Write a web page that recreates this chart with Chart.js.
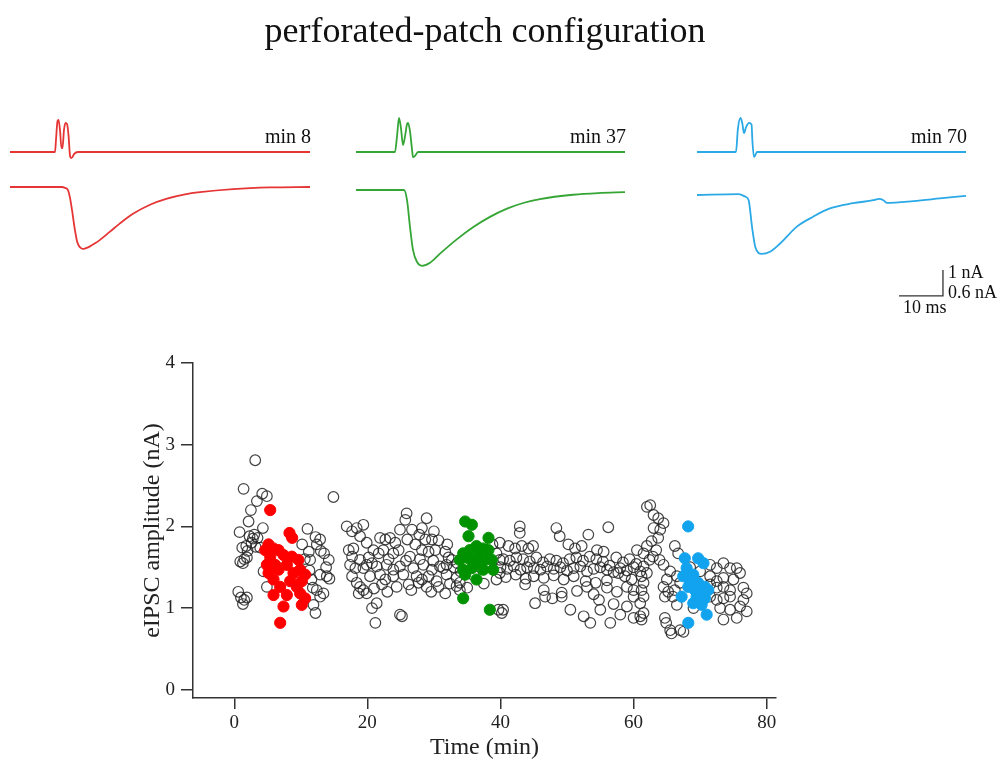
<!DOCTYPE html>
<html>
<head>
<meta charset="utf-8">
<script src="https://cdn.jsdelivr.net/npm/chart.js@4.4.1/dist/chart.umd.min.js"></script>
<style>
  html, body { margin: 0; padding: 0; background: #fff; }
  #wrap { position: relative; width: 1004px; height: 760px; overflow: hidden; }
  #wrap canvas { position: absolute; }
  #title {
    position: absolute; left: 0; top: 12px; width: 970px; text-align: center;
    font: 36px/36px 'Liberation Serif', 'Times New Roman', serif; color: #111;
  }
</style>
</head>
<body>
<div id="wrap">
  <canvas id="amp" width="1004" height="760" style="left:0;top:0"></canvas>
  <div id="title">perforated-patch configuration</div>
  <canvas id="tr0"></canvas>
  <canvas id="tr1"></canvas>
  <canvas id="tr2"></canvas>
</div>
<script>
const SERIF = "'Liberation Serif', 'Times New Roman', serif";
Chart.defaults.font.family = SERIF;

// ---------- example traces: [time (ms), current (nA)] ----------
const stim8 = [[0,0],[10.23,0],[10.45,0.46],[10.8,1.19],[11.02,1.23],[11.36,0.85],[11.7,0.15],[11.93,0.15],
  [12.27,0.85],[12.61,1.12],[12.95,1.08],[13.3,0.65],[13.64,-0.15],[13.86,-0.23],[14.2,-0.19],[14.55,-0.08],[15.45,0],[68.18,0]];
const ipsc8 = [[0,0],[11.82,0],[12.5,-0.02],[13.18,-0.07],[13.64,-0.25],[14.09,-0.53],[14.77,-1.0],[15.23,-1.25],
  [15.68,-1.36],[16.14,-1.41],[16.59,-1.43],[17.27,-1.41],[18.18,-1.37],[19.32,-1.3],[20.45,-1.22],[22.73,-1.03],
  [25.0,-0.84],[27.95,-0.62],[31.82,-0.41],[35.68,-0.27],[39.77,-0.17],[43.18,-0.12],[50.68,-0.05],[59.09,-0.01],[68.18,0]];

const stim37 = [[0,0],[8.86,0],[9.32,0.6],[9.77,1.31],[10.23,0.9],[10.68,0.27],[11.14,0.6],[11.6,1.08],[11.82,1.12],
  [12.27,0.8],[12.73,0.1],[12.95,-0.2],[13.41,-0.15],[14.09,0],[61.14,0]];
const ipsc37 = [[0,0],[10.91,0],[11.59,-0.23],[12.27,-0.85],[12.95,-1.38],[13.86,-1.66],[15.0,-1.75],[16.82,-1.68],
  [19.09,-1.47],[22.9,-1.14],[26.59,-0.86],[30.45,-0.62],[34.32,-0.43],[38.0,-0.3],[41.82,-0.21],[49.32,-0.11],
  [55.0,-0.07],[61.14,-0.05]];

const stim70 = [[0,0],[8.86,0],[9.3,0.9],[9.9,1.31],[10.3,1.1],[10.68,0.73],[11.14,0.95],[11.82,1.12],[12.4,1.05],
  [12.6,0.4],[12.95,-0.19],[13.3,-0.1],[13.64,0],[61.14,0]];
const ipsc70 = [[0,0],[9.47,0.02],[11.0,-0.04],[11.74,-0.12],[12.5,-0.73],[13.25,-1.2],[14.7,-1.36],[16.6,-1.31],
  [18.9,-1.12],[22.7,-0.73],[26.4,-0.5],[30.2,-0.31],[35.5,-0.19],[40.1,-0.12],[41.4,-0.09],[42.35,-0.12],
  [43.1,-0.18],[49.2,-0.14],[55.2,-0.08],[61.14,-0.02]];

// scale bar: 10 ms / 0.6 nA (IPSC) = 1 nA (stimulus)
const SCALE_MS = 10;
const SCALE_NA = 0.6;

// ---------- eIPSC amplitude over time: [time (min), amplitude (nA)] ----------
const openEarly = [[0.6,1.20],[1.0,1.13],[1.5,1.10],[1.9,1.13],[1.3,1.05],[0.8,1.93],[1.2,1.74],[1.8,1.76],[1.5,1.60],
  [0.9,1.57],[1.9,1.62],[1.3,1.55],[1.4,2.46],[2.15,2.06],[2.5,2.20],[3.15,2.81],[3.4,2.31],[4.2,2.40],[4.9,2.37],
  [2.3,1.88],[2.8,1.85],[3.0,1.90],[3.5,1.86],[2.6,1.80],[3.2,1.75],[3.9,1.74],[4.3,1.98],[2.0,1.70],[4.9,1.26],
  [4.4,1.45],[5.2,1.55],[11.0,1.97],[12.2,1.87],[12.9,1.84],[12.4,1.78],[13.0,1.70],[13.5,1.67],[11.2,1.69],
  [11.4,1.59],[14.2,1.59],[12.9,1.41],[13.9,1.39],[11.3,1.46],[11.6,1.35],[12.4,1.22],[13.4,1.18],[12.9,1.14],
  [11.9,1.04],[12.2,0.94],[14.9,2.36],[10.6,1.60],[13.8,1.50],[14.3,1.36],[10.2,1.78],[11.8,1.25]];
const openMidA = [[16.9,2.00],[17.7,1.94],[18.4,1.98],[17.2,1.71],[17.9,1.73],[17.7,1.63],[17.4,1.53],[18.2,1.49],
  [17.7,1.39],[18.4,1.31],[18.9,1.26],[18.7,1.18],[25.9,2.16],[25.7,2.08],[28.9,2.10],[19.4,2.02],[24.9,1.96],
  [26.7,1.96],[28.2,1.98],[21.9,1.86],[22.7,1.84],[23.4,1.86],[27.2,1.78],[28.7,1.84],[29.7,1.84],[30.7,1.83],
  [18.9,1.88],[19.9,1.80],[20.9,1.71],[21.7,1.67],[22.4,1.71],[23.9,1.67],[24.7,1.71],[26.4,1.63],[28.2,1.71],
  [29.2,1.69],[30.2,1.71],[31.7,1.69],[32.7,1.59],[31.9,1.53],[31.4,1.49],[19.9,1.53],[20.7,1.55],[21.4,1.51],
  [22.9,1.53],[23.9,1.47],[24.9,1.51],[26.9,1.49],[28.4,1.53],[29.7,1.47],[30.9,1.51],[18.9,1.59],[19.4,1.49],
  [20.4,1.39],[21.9,1.41],[22.7,1.35],[23.9,1.39],[25.4,1.41],[27.4,1.39],[28.2,1.35],[29.2,1.39],[30.4,1.33],
  [31.9,1.41],[33.4,1.37],[33.9,1.31],[19.4,1.22],[19.9,1.18],[22.2,1.29],[24.4,1.26],[26.2,1.29],[27.7,1.31],
  [28.9,1.26],[30.7,1.26],[31.7,1.18],[33.4,1.27],[33.9,1.22],[21.4,1.06],[20.7,1.00],[21.2,0.82],[24.9,0.92],
  [25.2,0.90],[20.2,1.62],[23.2,1.60],[25.8,1.58],[27.9,1.60],[29.9,1.58],[32.2,1.62],[21.0,1.24],[23.0,1.20],
  [26.6,1.22],[29.6,1.20],[32.4,1.30],[24.2,1.80],[26.0,1.84],[27.8,1.90],[30.0,1.94],[32.0,1.78],[33.0,1.50]];
const openMidB = [[34.0,1.45],[36.0,1.40],[37.5,1.30],[33.5,1.55],[39.4,1.67],[39.9,1.59],[39.9,1.43],[39.4,1.35],
  [39.7,0.98],[40.2,0.94],[38.8,1.78],[35.0,1.25],
  [42.9,2.00],[42.9,1.92],[48.4,1.98],[48.9,1.88],[53.2,1.90],[56.2,1.99],[39.9,1.80],[41.2,1.76],[42.2,1.73],
  [43.2,1.76],[44.2,1.73],[44.9,1.76],[50.2,1.78],[51.2,1.73],[52.2,1.76],[54.5,1.71],[55.5,1.69],[60.5,1.71],
  [61.5,1.67],[62.0,2.24],
  [40.4,1.60],[41.4,1.58],[42.4,1.62],[43.4,1.60],[44.4,1.57],[45.4,1.62],[46.4,1.56],[47.4,1.60],[48.4,1.58],
  [49.4,1.55],[50.4,1.60],[51.4,1.62],[52.4,1.58],[53.4,1.63],[54.4,1.60],[55.4,1.57],[56.4,1.52],[57.4,1.62],
  [58.4,1.56],[59.4,1.60],[60.4,1.54],
  [40.0,1.50],[41.0,1.48],[42.0,1.51],[43.0,1.47],[44.0,1.50],[45.0,1.49],[46.0,1.47],[47.0,1.51],[48.0,1.48],
  [49.0,1.50],[50.0,1.46],[51.0,1.49],[52.0,1.51],[53.0,1.45],[54.0,1.48],[55.0,1.50],[56.0,1.47],[57.0,1.44],
  [58.0,1.49],[59.0,1.46],[60.0,1.50],[61.0,1.45],
  [40.8,1.38],[42.3,1.41],[43.8,1.36],[45.0,1.39],[46.5,1.37],[48.0,1.40],[49.5,1.35],[51.0,1.39],[52.8,1.33],
  [54.3,1.31],[56.0,1.34],[57.7,1.43],[58.7,1.39],[59.7,1.35],
  [43.7,1.29],[46.5,1.22],[49.2,1.19],[51.5,1.21],[53.0,1.26],[54.0,1.17],[56.0,1.25],[57.5,1.20],[59.0,1.26],
  [60.0,1.22],
  [45.2,1.06],[46.7,1.14],[49.2,1.14],[50.5,0.98],[52.5,0.90],[53.5,0.82],[55.0,0.98],[56.5,0.82],[58.0,0.92],
  [60.0,0.88],[61.0,0.90],[60.0,1.14],[61.0,1.06],[40.4,0.98],[47.8,1.12],[54.8,1.10],[57.0,1.05],[59.0,1.02]];
const openLate = [[62.5,2.26],[63.0,2.14],[63.7,2.10],[64.5,2.04],[63.0,1.98],[64.0,1.96],[63.7,1.86],[62.7,1.82],
  [62.0,1.76],[63.4,1.71],[62.9,1.63],[63.9,1.59],[62.4,1.59],[61.5,1.51],[62.0,1.43],[61.2,1.39],[61.5,1.31],
  [61.2,1.22],[61.5,1.14],[64.5,1.53],[65.5,1.45],[65.0,1.35],[64.5,1.26],[65.2,1.20],[64.7,1.14],[61.5,0.94],
  [61.2,0.86],[64.7,0.88],[64.9,0.82],[65.5,0.73],[65.7,0.69],[66.2,1.76],[66.7,1.67],[66.5,1.39],[67.0,1.31],
  [66.2,1.22],[65.9,1.14],[66.5,1.04],[67.0,0.73],[67.5,0.71],[71.5,1.53],[72.5,1.49],[73.5,1.55],[74.5,1.49],
  [75.5,1.49],[71.5,1.39],[72.5,1.33],[73.5,1.37],[76.0,1.43],[71.5,1.29],[72.5,1.25],[73.5,1.26],[74.5,1.22],
  [76.5,1.25],[71.5,1.14],[72.5,1.10],[73.5,1.12],[74.5,1.14],[77.0,1.18],[73.0,1.00],[74.5,0.98],[76.0,1.02],
  [77.0,0.96],[73.5,0.86],[75.5,0.88],[70.0,1.45],[70.5,1.20],[75.0,1.35],[76.5,1.10],[68.5,1.50],[69.0,1.00]];

const redPts = [[5.4,2.20],[8.3,1.92],[8.7,1.86],[5.15,1.78],[5.9,1.73],[6.65,1.71],[5.4,1.63],[7.4,1.65],[8.65,1.63],
  [9.65,1.59],[4.9,1.53],[6.15,1.53],[7.9,1.53],[9.9,1.47],[5.15,1.43],[6.65,1.47],[8.9,1.43],[10.65,1.41],
  [5.9,1.35],[8.4,1.33],[10.15,1.33],[6.9,1.26],[9.4,1.26],[5.9,1.16],[7.9,1.16],[9.9,1.18],[7.4,1.02],
  [10.15,1.04],[10.65,1.12],[6.9,0.82],[4.65,1.71]];
const greenPts = [[34.7,2.06],[35.7,2.02],[35.2,1.88],[38.2,1.86],[36.4,1.76],[37.4,1.73],[35.4,1.71],[34.4,1.67],
  [38.2,1.71],[33.9,1.59],[35.2,1.61],[36.7,1.63],[36.2,1.55],[37.7,1.59],[38.7,1.59],[34.4,1.47],[35.7,1.49],
  [37.4,1.47],[38.9,1.47],[34.7,1.41],[36.4,1.35],[34.4,1.12],[38.4,0.98]];
const bluePts = [[68.2,2.00],[67.7,1.61],[69.7,1.61],[70.5,1.55],[67.97,1.49],[68.97,1.41],[67.46,1.39],[68.47,1.33],
  [69.71,1.31],[70.72,1.26],[69.22,1.22],[70.22,1.18],[71.22,1.22],[68.22,1.26],[69.47,1.14],[70.72,1.12],
  [68.97,1.06],[70.22,1.04],[67.22,1.14],[70.98,0.92],[68.22,0.82]];

// ---------- trace panels ----------
const PX_PER_MS = 4.4;
const PX_PER_NA_IPSC = 43.33;
const PX_PER_NA_STIM = 26;
const PANEL_TOP = 100, PANEL_H = 230, TRACE_INSET = 10, STIM_BASE = 152;

const panels = [
  { id: 'tr0', left: 0,   width: 330, stim: stim8,  ipsc: ipsc8,  color: '#e63535', label: 'min 8',  ipscBase: 187 },
  { id: 'tr1', left: 346, width: 290, stim: stim37, ipsc: ipsc37, color: '#35a535', label: 'min 37', ipscBase: 190 },
  { id: 'tr2', left: 687, width: 317, stim: stim70, ipsc: ipsc70, color: '#2aa9e6', label: 'min 70', ipscBase: 195, bar: { t0: 45.9, i0: -2.33 } }
];

const toXY = arr => arr.map(([x, y]) => ({ x, y }));

const panelText = {
  id: 'panelText',
  afterDatasetsDraw(chart, args, opts) {
    const { ctx, scales } = chart;
    const { x, yA, yI } = scales;
    ctx.save();
    ctx.fillStyle = '#111';
    ctx.textBaseline = 'alphabetic';
    ctx.font = '20px ' + SERIF;
    ctx.textAlign = 'right';
    ctx.fillText(opts.label, x.getPixelForValue(opts.traceEnd) + 1, yA.getPixelForValue(0) - 9);
    if (opts.bar) {
      const cx = x.getPixelForValue(opts.bar.t0 + SCALE_MS);
      const x0 = x.getPixelForValue(opts.bar.t0);
      const cy = yI.getPixelForValue(opts.bar.i0);
      ctx.font = '18px ' + SERIF;
      ctx.textAlign = 'left';
      ctx.fillText('1 nA', cx + 5, cy - 18);
      ctx.fillText('0.6 nA', cx + 5, cy + 2);
      ctx.fillText('10 ms', x0 + 4, cy + 17);
    }
    ctx.restore();
  }
};

panels.forEach(p => {
  const cv = document.getElementById(p.id);
  cv.width = p.width; cv.height = PANEL_H;
  cv.style.left = p.left + 'px'; cv.style.top = PANEL_TOP + 'px';
  const xMin = -TRACE_INSET / PX_PER_MS;
  const iMax = (p.ipscBase - PANEL_TOP) / PX_PER_NA_IPSC;
  const sMax = (STIM_BASE - PANEL_TOP) / PX_PER_NA_STIM;
  const traceEnd = p.ipsc[p.ipsc.length - 1][0];
  const datasets = [
    { data: toXY(p.stim), yAxisID: 'yA', borderColor: p.color, borderWidth: 1.8, pointRadius: 0, cubicInterpolationMode: 'monotone', fill: false },
    { data: toXY(p.ipsc), yAxisID: 'yI', borderColor: p.color, borderWidth: 1.8, pointRadius: 0, cubicInterpolationMode: 'monotone', fill: false }
  ];
  if (p.bar) {
    datasets.push({
      data: toXY([[p.bar.t0, p.bar.i0], [p.bar.t0 + SCALE_MS, p.bar.i0], [p.bar.t0 + SCALE_MS, p.bar.i0 + SCALE_NA]]),
      yAxisID: 'yI', borderColor: '#333', borderWidth: 1.3, pointRadius: 0, tension: 0, fill: false
    });
  }
  new Chart(cv, {
    type: 'line',
    data: { datasets },
    options: {
      responsive: false, animation: false, devicePixelRatio: 1,
      layout: { padding: 0 },
      plugins: {
        legend: { display: false }, tooltip: { enabled: false },
        panelText: { label: p.label, traceEnd, bar: p.bar }
      },
      scales: {
        x: { type: 'linear', display: false, min: xMin, max: xMin + p.width / PX_PER_MS },
        yA: { type: 'linear', display: false, max: sMax, min: sMax - PANEL_H / PX_PER_NA_STIM },
        yI: { type: 'linear', display: false, max: iMax, min: iMax - PANEL_H / PX_PER_NA_IPSC }
      }
    },
    plugins: [panelText]
  });
});

// ---------- amplitude time course ----------
const openStyle = {
  pointRadius: 5.3, pointBorderWidth: 1.2, pointBackgroundColor: 'rgba(0,0,0,0)',
  pointBorderColor: 'rgba(35,35,35,0.85)', showLine: false, order: 2
};
const filled = c => ({ pointRadius: 5.6, pointBorderWidth: 1, pointBackgroundColor: c, pointBorderColor: c, showLine: false, order: 1 });

new Chart(document.getElementById('amp'), {
  type: 'scatter',
  data: {
    datasets: [
      { data: toXY(openEarly), ...openStyle },
      { data: toXY(openMidA), ...openStyle },
      { data: toXY(openMidB), ...openStyle },
      { data: toXY(openLate), ...openStyle },
      { data: toXY(redPts), ...filled('#ff0000') },
      { data: toXY(greenPts), ...filled('#009200') },
      { data: toXY(bluePts), ...filled('#12a3ef') }
    ]
  },
  options: {
    responsive: false, animation: false, devicePixelRatio: 1,
    layout: { padding: { left: 133, top: 363, right: 228, bottom: 0 } },
    plugins: { legend: { display: false }, tooltip: { enabled: false } },
    scales: {
      x: {
        type: 'linear', position: 'bottom', min: -6.2, max: 81.4,
        border: { display: true, color: '#333', width: 1.5 },
        grid: { drawOnChartArea: false, drawTicks: true, tickLength: 11, tickColor: '#333', lineWidth: 1.5 },
        ticks: { stepSize: 20, includeBounds: false, padding: 3, color: '#222', maxRotation: 0, font: { size: 19, family: SERIF } },
        title: { display: true, text: 'Time (min)', color: '#222', font: { size: 24, family: SERIF }, padding: { top: 0, bottom: -2 } },
        afterFit: s => { s.height = 62; }
      },
      y: {
        type: 'linear', position: 'left', min: -0.1, max: 4,
        border: { display: true, color: '#333', width: 1.5 },
        grid: { drawOnChartArea: false, drawTicks: true, tickLength: 12, tickColor: '#333', lineWidth: 1.5 },
        ticks: { stepSize: 1, includeBounds: false, padding: 6, color: '#222', font: { size: 19, family: SERIF } },
        title: { display: true, text: 'eIPSC amplitude (nA)', color: '#222', font: { size: 24, family: SERIF }, padding: { top: 5, bottom: 0 } },
        afterFit: s => { s.width = 60; }
      }
    }
  }
});
</script>
</body>
</html>
